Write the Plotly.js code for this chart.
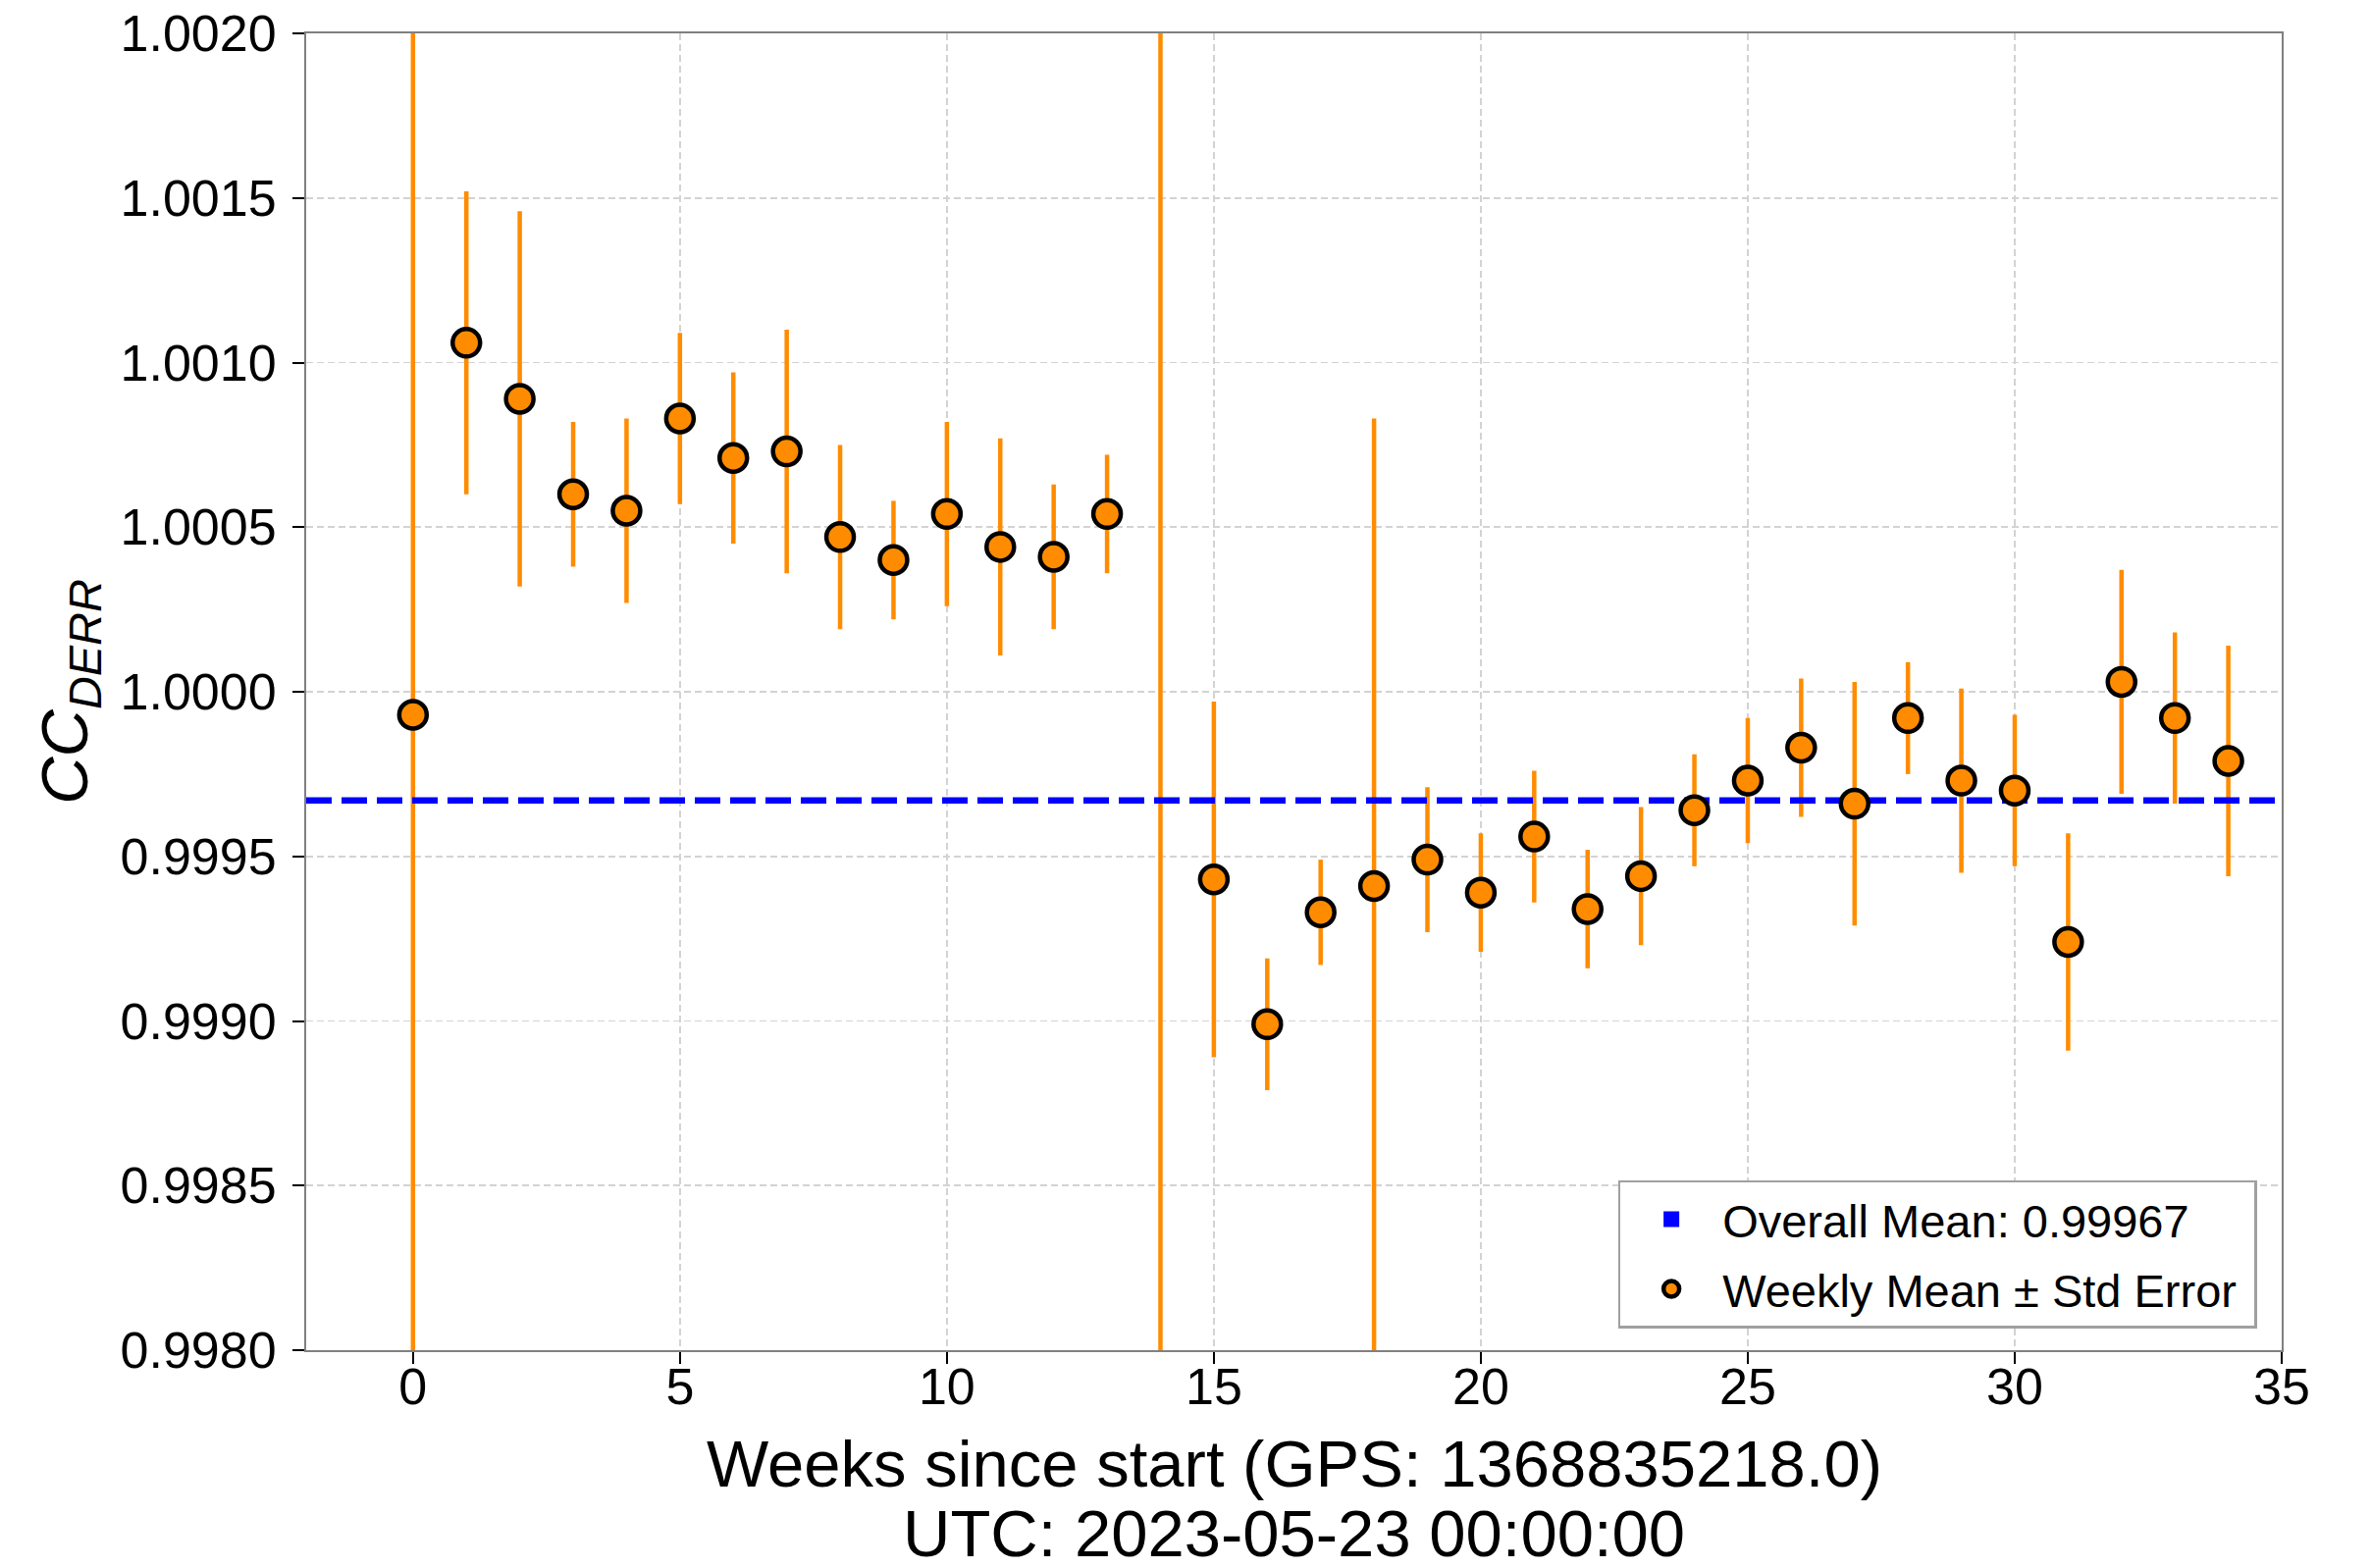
<!DOCTYPE html>
<html>
<head>
<meta charset="utf-8">
<script src="https://cdn.plot.ly/plotly-3.0.1.min.js"></script>
<style>
  html, body { margin: 0; padding: 0; background: #ffffff; }
  #chart { width: 2416px; height: 1598px; }
</style>
</head>
<body>
<div id="chart"></div>
<script>
// ---------------- data ----------------
const weeks = [0, 1, 2, 3, 4, 5, 6, 7, 8, 9, 10, 11, 12, 13, 14, 15, 16, 17,
               18, 19, 20, 21, 22, 23, 24, 25, 26, 27, 28, 29, 30, 31, 32, 33, 34];
const weeklyMean = [0.99993, 1.00106, 1.00089, 1.00060, 1.00055, 1.00083, 1.00071,
                    1.00073, 1.00047, 1.00040, 1.00054, 1.00044, 1.00041, 1.00054,
                    0.99700, 0.99943, 0.99899, 0.99933, 0.99941, 0.99949, 0.99939,
                    0.99956, 0.99934, 0.99944, 0.99964, 0.99973, 0.99983, 0.99966,
                    0.99992, 0.99973, 0.99970, 0.99924, 1.00003, 0.99992, 0.99979];
const stdError = [0.00300, 0.00046, 0.00057, 0.00022, 0.00028, 0.00026, 0.00026,
                  0.00037, 0.00028, 0.00018, 0.00028, 0.00033, 0.00022, 0.00018,
                  0.00600, 0.00054, 0.00020, 0.00016, 0.00142, 0.00022, 0.00018,
                  0.00020, 0.00018, 0.00021, 0.00017, 0.00019, 0.00021, 0.00037,
                  0.00017, 0.00028, 0.00023, 0.00033, 0.00034, 0.00026, 0.00035];
const overallMean = 0.99967;
const xAxisRange = [-2, 35];
const yAxisRange = [0.9980, 1.0020];
const xTickVals = [0, 5, 10, 15, 20, 25, 30, 35];
const yTickVals = [0.9980, 0.9985, 0.9990, 0.9995, 1.0000, 1.0005, 1.0010, 1.0015, 1.0020];
const xTitleLine1 = 'Weeks since start (GPS: 1368835218.0)';
const xTitleLine2 = 'UTC: 2023-05-23 00:00:00';
const yTitle = '<i>CC</i><sub><i>DERR</i></sub>';
const meanLabel = 'Overall Mean: ' + overallMean.toFixed(5);
const weeklyLabel = 'Weekly Mean \u00B1 Std Error';

// ---------------- style ----------------
const FONT = 'Liberation Sans, Arial, Helvetica, sans-serif';
const ORANGE = '#FF8C00';

const errTrace = {
  x: weeks, y: weeklyMean, type: 'scatter', mode: 'markers',
  marker: { size: 28, color: ORANGE, opacity: 0 },
  error_y: { type: 'data', array: stdError, visible: true, color: ORANGE, thickness: 4.5, width: 0 },
  showlegend: false, hoverinfo: 'skip'
};
const meanLine = {
  x: xAxisRange, y: [overallMean, overallMean], type: 'scatter', mode: 'lines',
  line: { color: '#0000FF', width: 6.5, dash: '26px,10px' },
  showlegend: false, hoverinfo: 'skip'
};
const meanLegend = {
  x: [null], y: [null], type: 'scatter', mode: 'markers',
  name: meanLabel, legendgroup: 'mean',
  marker: { symbol: 'square', size: 16, color: '#0000FF' }
};
const markerTrace = {
  x: weeks, y: weeklyMean, type: 'scatter', mode: 'markers',
  name: weeklyLabel + '\u00A0', legendgroup: 'weekly',
  marker: { size: 28, color: ORANGE, line: { color: '#000000', width: 4.5 } }
};

const axisCommon = {
  showline: true, mirror: true, linecolor: '#808080', linewidth: 2,
  ticks: 'outside', ticklen: 12, tickwidth: 2, tickcolor: '#000000',
  showgrid: true, gridcolor: '#d3d3d3', gridwidth: 1.6, griddash: '7px,4px',
  zeroline: false,
  tickfont: { family: FONT, size: 52, color: '#000000' },
  automargin: false
};

const layout = {
  width: 2416, height: 1598,
  margin: { l: 312, r: 91, t: 34, b: 222 },
  paper_bgcolor: '#ffffff', plot_bgcolor: '#ffffff',
  font: { family: FONT, color: '#000000' },
  showlegend: true,
  xaxis: Object.assign({}, axisCommon, {
    range: xAxisRange, tickmode: 'array', tickvals: xTickVals,
    ticklabelstandoff: -21
  }),
  yaxis: Object.assign({}, axisCommon, {
    range: yAxisRange, tickmode: 'array', tickvals: yTickVals, tickformat: '.4f',
    ticklabelstandoff: 6,
    title: { text: yTitle, font: { family: FONT, size: 67, color: '#000000' }, standoff: 11 }
  }),
  legend: {
    x: 0.664, y: 0.129, xanchor: 'left', yanchor: 'top',
    bgcolor: '#ffffff', bordercolor: '#a0a0a0', borderwidth: 2.5,
    font: { family: FONT, size: 47, color: '#000000' },
    itemwidth: 94, traceorder: 'grouped', tracegroupgap: 7
  },
  annotations: [
    { text: xTitleLine1, xref: 'paper', yref: 'paper', x: 0.5, y: 0,
      xanchor: 'center', yanchor: 'top', yshift: -77, showarrow: false, borderpad: 0,
      font: { family: FONT, size: 67, color: '#000000' } },
    { text: xTitleLine2, xref: 'paper', yref: 'paper', x: 0.5, y: 0,
      xanchor: 'center', yanchor: 'top', yshift: -148, showarrow: false, borderpad: 0,
      font: { family: FONT, size: 67, color: '#000000' } }
  ]
};

Plotly.newPlot('chart', [errTrace, meanLine, meanLegend, markerTrace], layout,
  { staticPlot: true, displayModeBar: false });
</script>
</body>
</html>
